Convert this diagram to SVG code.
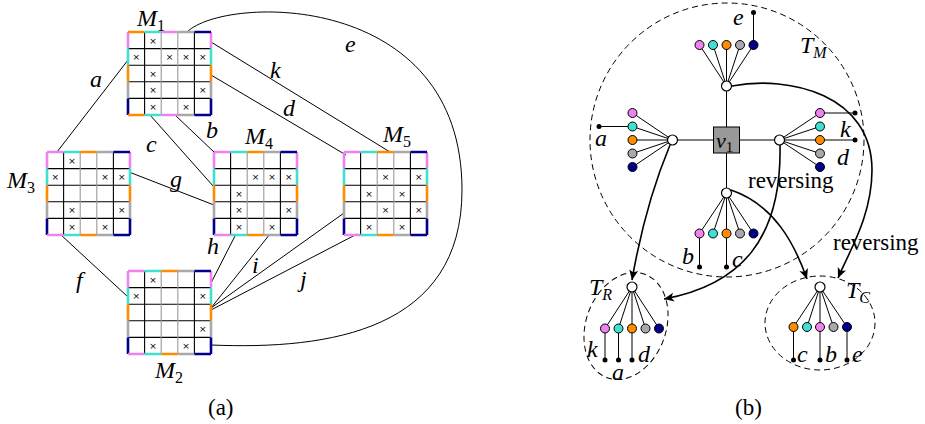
<svg xmlns="http://www.w3.org/2000/svg" width="925" height="424" viewBox="0 0 925 424">
<style>
.gl{stroke:#000;stroke-width:1.1;fill:none}
.gg{stroke:#9a9a9a;stroke-width:1.1;fill:none}
.s{stroke-width:2.6;fill:none}
.cv{stroke:#EE82EE}.ct{stroke:#40E0D0}.co{stroke:#FF8C00}.cg{stroke:#A9A9A9}.cn{stroke:#00008B}
.x{font-family:"DejaVu Sans",sans-serif;font-size:9px;text-anchor:middle;fill:#000}
.m{font-family:"Liberation Serif",serif;font-style:italic;font-size:24px;fill:#000}
.sn{font-style:normal;font-size:16px}
.si{font-style:italic;font-size:16px}
.r{font-family:"Liberation Serif",serif;font-size:23px;fill:#000}
.e{stroke:#000;stroke-width:1;fill:none}
.t{stroke:#000;stroke-width:1;fill:none}
.arr{stroke:#000;stroke-width:1.6;fill:none;marker-end:url(#ah)}
.dash{stroke:#000;stroke-width:1;fill:none;stroke-dasharray:6 4}
.dot{stroke:#000;stroke-width:1}
.fv{fill:#EE82EE}.ft{fill:#40E0D0}.fo{fill:#FF8C00}.fg{fill:#A9A9A9}.fn{fill:#00008B}
.hub{fill:#fff;stroke:#000;stroke-width:1.2}
.leaf{fill:#000}
</style>
<defs>
<marker id="ah" markerUnits="userSpaceOnUse" markerWidth="14" markerHeight="12" refX="0" refY="0" viewBox="-11 -6 14 12" orient="auto">
<path d="M0,0 L-10,-4.5 L-7.5,0 L-10,4.5 Z" fill="#000"/>
</marker>
<g id="grid">
<path class="gl" d="M0,16.6H83M0,33.2H83M0,49.8H83M0,66.4H83M16.6,0V83M66.4,0V83"/>
<path class="gg" d="M33.2,0V83M49.8,0V83"/>
</g>
<g id="lr">
<path class="s cv" d="M0,0V16.6M83,0V16.6"/>
<path class="s ct" d="M0,16.6V33.2M83,16.6V33.2"/>
<path class="s co" d="M0,33.2V49.8M83,33.2V49.8"/>
<path class="s cg" d="M0,49.8V66.4M83,49.8V66.4"/>
<path class="s cn" d="M0,66.4V83M83,66.4V83"/>
</g>
<g id="tb">
<path class="s cv" d="M0,0H16.6M0,83H16.6"/>
<path class="s ct" d="M16.6,0H33.2M16.6,83H33.2"/>
<path class="s co" d="M33.2,0H49.8M33.2,83H49.8"/>
<path class="s cg" d="M49.8,0H66.4M49.8,83H66.4"/>
<path class="s cn" d="M66.4,0H83M66.4,83H83"/>
</g>
<g id="tb1">
<path class="s co" d="M0,0H16.6M0,83H16.6"/>
<path class="s ct" d="M16.6,0H33.2M16.6,83H33.2"/>
<path class="s cv" d="M33.2,0H49.8M33.2,83H49.8"/>
<path class="s cg" d="M49.8,0H66.4M49.8,83H66.4"/>
<path class="s cn" d="M66.4,0H83M66.4,83H83"/>
</g>
</defs>
<rect width="925" height="424" fill="#fff"/>

<g id="connectors-a">
<path class="e" d="M57,152L128,60"/>
<path class="e" d="M211,42L390,152"/>
<path class="e" d="M211,75L346,155"/>
<path class="e" d="M175,115L214,152"/>
<path class="e" d="M150,115L214,187"/>
<path class="e" d="M129,172L214,205"/>
<path class="e" d="M60,234L128,297"/>
<path class="e" d="M236,234L211,283"/>
<path class="e" d="M270,234L211,308"/>
<path class="e" d="M344,213L211,308"/>
<path class="e" d="M357,234L211,310"/>
<path class="e" d="M187,32C225,-5 462,-10 462,190C462,330 330,350 211,345"/>
</g>

<g id="M1">
<g transform="translate(128,32)">
<use href="#grid"/><use href="#lr"/><use href="#tb1"/>
<text class="x" x="24.9" y="11.5">×</text><text class="x" x="8.3" y="28.1">×</text><text class="x" x="41.5" y="28.1">×</text><text class="x" x="58.1" y="28.1">×</text><text class="x" x="74.7" y="28.1">×</text><text class="x" x="24.9" y="44.7">×</text><text class="x" x="24.9" y="61.3">×</text><text class="x" x="74.7" y="61.3">×</text><text class="x" x="24.9" y="77.9">×</text><text class="x" x="58.1" y="77.9">×</text>
</g>
<text class="m" x="137" y="26">M<tspan class="sn" dy="5">1</tspan></text>
</g>
<g id="M3">
<g transform="translate(47,152)">
<use href="#grid"/><use href="#lr"/><use href="#tb"/>
<text class="x" x="24.9" y="11.5">×</text><text class="x" x="8.3" y="28.1">×</text><text class="x" x="58.1" y="28.1">×</text><text class="x" x="74.7" y="28.1">×</text><text class="x" x="24.9" y="61.3">×</text><text class="x" x="74.7" y="61.3">×</text><text class="x" x="24.9" y="77.9">×</text><text class="x" x="58.1" y="77.9">×</text>
</g>
<text class="m" x="7" y="188">M<tspan class="sn" dy="5">3</tspan></text>
</g>
<g id="M4">
<g transform="translate(214,152)">
<use href="#grid"/><use href="#lr"/><use href="#tb"/>
<text class="x" x="41.5" y="28.1">×</text><text class="x" x="58.1" y="28.1">×</text><text class="x" x="74.7" y="28.1">×</text><text class="x" x="24.9" y="44.7">×</text><text class="x" x="24.9" y="61.3">×</text><text class="x" x="74.7" y="61.3">×</text><text class="x" x="24.9" y="77.9">×</text><text class="x" x="58.1" y="77.9">×</text>
</g>
<text class="m" x="245" y="144">M<tspan class="sn" dy="5">4</tspan></text>
</g>
<g id="M5">
<g transform="translate(344,152)">
<use href="#grid"/><use href="#lr"/><use href="#tb"/>
<text class="x" x="41.5" y="28.1">×</text><text class="x" x="74.7" y="28.1">×</text><text class="x" x="24.9" y="44.7">×</text><text class="x" x="58.1" y="44.7">×</text><text class="x" x="41.5" y="61.3">×</text><text class="x" x="74.7" y="61.3">×</text><text class="x" x="24.9" y="77.9">×</text><text class="x" x="58.1" y="77.9">×</text>
</g>
<text class="m" x="383" y="142">M<tspan class="sn" dy="5">5</tspan></text>
</g>
<g id="M2">
<g transform="translate(128,271)">
<use href="#grid"/><use href="#lr"/><use href="#tb"/>
<text class="x" x="24.9" y="11.5">×</text><text class="x" x="8.3" y="28.1">×</text><text class="x" x="74.7" y="28.1">×</text><text class="x" x="74.7" y="61.3">×</text><text class="x" x="24.9" y="77.9">×</text><text class="x" x="58.1" y="77.9">×</text>
</g>
<text class="m" x="155" y="378">M<tspan class="sn" dy="5">2</tspan></text>
</g>

<g id="edge-labels-a">
<text class="m" x="90" y="87">a</text>
<text class="m" x="270" y="78">k</text>
<text class="m" x="283" y="116">d</text>
<text class="m" x="206" y="138">b</text>
<text class="m" x="146" y="152">c</text>
<text class="m" x="170" y="187">g</text>
<text class="m" x="345" y="52">e</text>
<text class="m" x="76" y="288">f</text>
<text class="m" x="207" y="254">h</text>
<text class="m" x="252" y="273">i</text>
<text class="m" x="300" y="287">j</text>
</g>
<text class="r" x="208" y="415">(a)</text>

<g id="TM">
<circle class="dash" cx="727" cy="140" r="137"/>
<text class="m" x="800" y="53">T<tspan class="si" dy="5">M</tspan></text>
</g>

<g id="connectors-b">
<path class="t" d="M726.5,91V127M726.5,153V188M677.5,140H713.5M739.5,140H774.5"/>
<path class="arr" d="M670,145Q645,205 632,280"/>
<path class="arr" d="M780,145C782,240 740,285 664,299"/>
<path class="arr" d="M731,190C775,205 795,245 807,279"/>
<path class="arr" d="M732,86C790,75 872,95 872,170C872,215 850,250 838,278"/>
</g>
<text class="r" x="748" y="188">reversing</text>
<text class="r" x="833" y="250">reversing</text>

<g id="v1">
<rect x="713.5" y="127" width="26" height="26" fill="#999" stroke="#000" stroke-width="1"/>
<text class="m" x="716" y="148" style="font-size:22px">v<tspan class="sn" dy="4" style="font-size:15px">1</tspan></text>
</g>

<g id="hub-top">
<path class="t" d="M726.5,86L699.5,45M726.5,86L713,45M726.5,86V45M726.5,86L740,45M726.5,86L753.5,45M753.5,45V12.5"/>
<circle class="dot fv" cx="699.5" cy="45" r="4.5"/><circle class="dot ft" cx="713" cy="45" r="4.5"/><circle class="dot fo" cx="726.5" cy="45" r="4.5"/><circle class="dot fg" cx="740" cy="45" r="4.5"/><circle class="dot fn" cx="753.5" cy="45" r="4.5"/>
<circle class="leaf" cx="753.5" cy="12.5" r="2.5"/>
<circle class="hub" cx="726.5" cy="86" r="5"/>
<text class="m" x="733" y="25">e</text>
</g>

<g id="hub-left">
<path class="t" d="M672.5,140L632.5,113M672.5,140L632.5,126.5M672.5,140H632.5M672.5,140L632.5,153.5M672.5,140L632.5,167M632.5,126.5H599"/>
<circle class="dot fv" cx="632.5" cy="113" r="4.5"/><circle class="dot ft" cx="632.5" cy="126.5" r="4.5"/><circle class="dot fo" cx="632.5" cy="140" r="4.5"/><circle class="dot fg" cx="632.5" cy="153.5" r="4.5"/><circle class="dot fn" cx="632.5" cy="167" r="4.5"/>
<circle class="leaf" cx="599" cy="126.5" r="2.5"/>
<circle class="hub" cx="672.5" cy="140" r="5"/>
<text class="m" x="595" y="146">a</text>
</g>

<g id="hub-right">
<path class="t" d="M779.5,140L820,113M779.5,140L820,126.5M779.5,140H820M779.5,140L820,153.5M779.5,140L820,167M820,113H855M820,140H855"/>
<circle class="dot fv" cx="820" cy="113" r="4.5"/><circle class="dot ft" cx="820" cy="126.5" r="4.5"/><circle class="dot fo" cx="820" cy="140" r="4.5"/><circle class="dot fg" cx="820" cy="153.5" r="4.5"/><circle class="dot fn" cx="820" cy="167" r="4.5"/>
<circle class="leaf" cx="855" cy="113" r="2.5"/><circle class="leaf" cx="855" cy="140" r="2.5"/>
<circle class="hub" cx="779.5" cy="140" r="5"/>
<text class="m" x="840" y="137">k</text>
<text class="m" x="837" y="165">d</text>
</g>

<g id="hub-bottom">
<path class="t" d="M726.5,193L699.5,233.5M726.5,193L713,233.5M726.5,193V233.5M726.5,193L740,233.5M726.5,193L753.5,233.5M699.5,233.5V267M726.5,233.5V267"/>
<circle class="dot fv" cx="699.5" cy="233.5" r="4.5"/><circle class="dot ft" cx="713" cy="233.5" r="4.5"/><circle class="dot fo" cx="726.5" cy="233.5" r="4.5"/><circle class="dot fg" cx="740" cy="233.5" r="4.5"/><circle class="dot fn" cx="753.5" cy="233.5" r="4.5"/>
<circle class="leaf" cx="699.5" cy="267" r="2.5"/><circle class="leaf" cx="726.5" cy="267" r="2.5"/>
<circle class="hub" cx="726.5" cy="193" r="5"/>
<text class="m" x="682" y="264">b</text>
<text class="m" x="732" y="267">c</text>
</g>

<g id="TR">
<ellipse class="dash" cx="626" cy="326" rx="40" ry="55" transform="rotate(20 626 326)"/>
<path class="t" d="M632,287L605,328.5M632,287L618.5,328.5M632,287V328.5M632,287L645.5,328.5M632,287L659,328.5M605,328.5V360M618.5,328.5V360M632,328.5V360"/>
<circle class="dot fv" cx="605" cy="328.5" r="4.5"/><circle class="dot ft" cx="618.5" cy="328.5" r="4.5"/><circle class="dot fo" cx="632" cy="328.5" r="4.5"/><circle class="dot fg" cx="645.5" cy="328.5" r="4.5"/><circle class="dot fn" cx="659" cy="328.5" r="4.5"/>
<circle class="leaf" cx="605" cy="360" r="2.5"/><circle class="leaf" cx="618.5" cy="360" r="2.5"/><circle class="leaf" cx="632" cy="360" r="2.5"/>
<circle class="hub" cx="632" cy="287" r="5"/>
<text class="m" x="589" y="295">T<tspan class="si" dy="5">R</tspan></text>
<text class="m" x="587" y="357">k</text>
<text class="m" x="612" y="380">a</text>
<text class="m" x="638" y="362">d</text>
</g>

<g id="TC">
<ellipse class="dash" cx="820" cy="323" rx="55" ry="47"/>
<path class="t" d="M820,287L793.5,327M820,287L807,327M820,287V327M820,287L833.5,327M820,287L847,327M793.5,327V360M820,327V360M847,327V360"/>
<circle class="dot fo" cx="793.5" cy="327" r="4.5"/><circle class="dot ft" cx="807" cy="327" r="4.5"/><circle class="dot fv" cx="820" cy="327" r="4.5"/><circle class="dot fg" cx="833.5" cy="327" r="4.5"/><circle class="dot fn" cx="847" cy="327" r="4.5"/>
<circle class="leaf" cx="793.5" cy="360" r="2.5"/><circle class="leaf" cx="820" cy="360" r="2.5"/><circle class="leaf" cx="847" cy="360" r="2.5"/>
<circle class="hub" cx="820" cy="287" r="5"/>
<text class="m" x="846" y="298">T<tspan class="si" dy="5">C</tspan></text>
<text class="m" x="797" y="362">c</text>
<text class="m" x="825" y="362">b</text>
<text class="m" x="852" y="362">e</text>
</g>
<text class="r" x="735" y="415">(b)</text>
</svg>
